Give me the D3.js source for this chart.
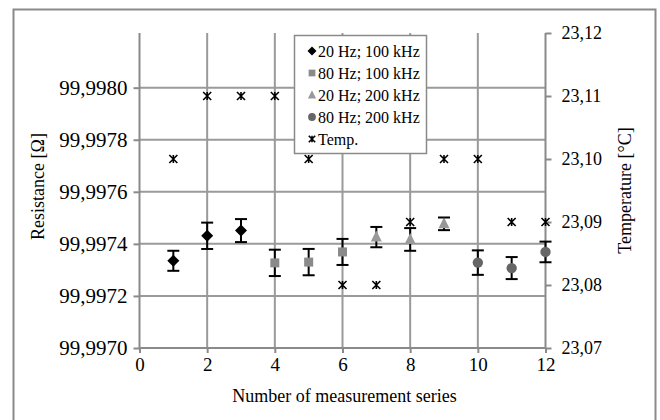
<!DOCTYPE html>
<html><head><meta charset="utf-8">
<script src="https://cdn.jsdelivr.net/npm/d3@7"></script>
<style>body{margin:0;background:#fff} text{font-family:"Liberation Serif","Times New Roman",serif;fill:#000}</style>
</head><body><svg id="c" width="660" height="420"></svg>
<script>
// ---- data ----
const seriesNo = [1,2,3,4,5,6,7,8,9,10,11,12];
const groupNames = ["20 Hz; 100 kHz","80 Hz; 100 kHz","20 Hz; 200 kHz","80 Hz; 200 kHz"];
const groupOf = [0,0,0,1,1,1,2,2,2,3,3,3];
const resistance = [99.997335,99.997431,99.997451,99.997327,99.99733,99.997369,99.997426,99.997417,99.997477,99.997328,99.997307,99.997369];
const resistanceErr = [0.0000385,0.0000506,0.0000442,0.0000506,0.0000506,0.00005,0.000039,0.0000436,0.0000243,0.000047,0.0000423,0.0000396];
const temperature = [23.10,23.11,23.11,23.11,23.10,23.08,23.08,23.09,23.10,23.10,23.09,23.09];
const xTicks = [0,2,4,6,8,10,12];
const resTicks = [99.9970,99.9972,99.9974,99.9976,99.9978,99.9980];
const tempTicks = [23.07,23.08,23.09,23.10,23.11,23.12];
const tempLabel = "Temp.";

// ---- drawing ----
const FONT = '"Liberation Serif","Times New Roman",serif';
const svg = d3.select("#c");
const L = 139.5, R = 545.5, T = 33, B = 348;
const x = d3.scaleLinear().domain([0,12]).range([L,R]);
const yL = d3.scaleLinear().domain([99.9970,99.99821]).range([B,T]);
const yR = d3.scaleLinear().domain([23.07,23.12]).range([B,T]);
const fmtR = v => d3.format(".4f")(v).replace(".", ",");
const fmtT = v => d3.format(".2f")(v).replace(".", ",");
const gridC = "#9a9a9a", axisC = "#8a8a8a";
const markFill = ["#000000","#8a8a8a","#999999","#666666"];

// outer frame
svg.append("rect").attr("x",13.5).attr("y",9.5).attr("width",642).attr("height",430)
  .attr("fill","#fff").attr("stroke",axisC).attr("stroke-width",2);

// gridlines
svg.append("g").selectAll("line").data(xTicks.filter(d=>d>0&&d<12)).join("line")
  .attr("x1",d=>x(d)).attr("x2",d=>x(d)).attr("y1",T).attr("y2",B)
  .attr("stroke",gridC).attr("stroke-width",2);
svg.append("g").selectAll("line").data(resTicks.slice(1)).join("line")
  .attr("x1",L).attr("x2",R).attr("y1",d=>yL(d)).attr("y2",d=>yL(d))
  .attr("stroke",gridC).attr("stroke-width",2);

// axes
function styleAxis(size){
  return g => {
    g.attr("font-family",FONT).attr("font-size",size);
    g.select(".domain").remove();
    g.selectAll(".tick line").attr("stroke",axisC).attr("stroke-width",2);
    g.selectAll(".tick text").attr("fill","#000").style("font-size",size+"px");
  };
}
svg.append("g").attr("transform",`translate(0,${B})`)
  .call(d3.axisBottom(x).tickValues(xTicks).tickSize(5).tickPadding(5).tickFormat(d3.format("d")))
  .call(styleAxis(19));
svg.append("g").attr("transform",`translate(${L},0)`)
  .call(d3.axisLeft(yL).tickValues(resTicks).tickSize(6).tickPadding(6).tickFormat(fmtR))
  .call(styleAxis(21));
svg.append("g").attr("transform",`translate(${R},0)`)
  .call(d3.axisRight(yR).tickValues(tempTicks).tickSize(6).tickPadding(10).tickFormat(fmtT))
  .call(styleAxis(18));
// axis lines
svg.append("line").attr("x1",L).attr("x2",L).attr("y1",T).attr("y2",B+1).attr("stroke",axisC).attr("stroke-width",2);
svg.append("line").attr("x1",R).attr("x2",R).attr("y1",T).attr("y2",B+1).attr("stroke",axisC).attr("stroke-width",2);
svg.append("line").attr("x1",L).attr("x2",R).attr("y1",B).attr("y2",B).attr("stroke",axisC).attr("stroke-width",2);

// titles
svg.append("text").attr("x",(L+R)/2+2).attr("y",402).attr("text-anchor","middle").style("font-size","18px").text("Number of measurement series");
svg.append("text").attr("transform",`translate(44,${(T+B)/2 - 4}) rotate(-90)`).attr("text-anchor","middle").style("font-size","18px").text("Resistance [Ω]");
svg.append("text").attr("transform",`translate(631,${(T+B)/2}) rotate(-90)`).attr("text-anchor","middle").style("font-size","18px").text("Temperature [°C]");

// marker shapes
function drawMarker(g, gi, cx, cy, s){
  if(gi===0){ g.append("path").attr("d",`M${cx},${cy-6*s}L${cx+6*s},${cy}L${cx},${cy+6*s}L${cx-6*s},${cy}Z`).attr("fill",markFill[0]); }
  else if(gi===1){ g.append("rect").attr("x",cx-4.5*s).attr("y",cy-4.5*s).attr("width",9*s).attr("height",9*s).attr("fill",markFill[1]); }
  else if(gi===2){ g.append("path").attr("d",`M${cx},${cy-6.5*s}L${cx+5.5*s},${cy+4.5*s}L${cx-5.5*s},${cy+4.5*s}Z`).attr("fill",markFill[2]); }
  else { g.append("circle").attr("cx",cx).attr("cy",cy).attr("r",5.2*s).attr("fill",markFill[3]); }
}
function drawStar(g, cx, cy, s){
  const h = 4*s;
  g.append("path").attr("d",`M${cx-h},${cy-h}L${cx+h},${cy+h}M${cx+h},${cy-h}L${cx-h},${cy+h}M${cx},${cy-h}L${cx},${cy+h}`)
    .attr("stroke","#000").attr("stroke-width",1.6).attr("fill","none");
}

// temperature points
const gT = svg.append("g");
seriesNo.forEach((n,i)=> drawStar(gT, x(n), yR(temperature[i]), 1));

// error bars + resistance markers
const gE = svg.append("g").attr("stroke","#000").attr("stroke-width",2);
seriesNo.forEach((n,i)=>{
  const cx = x(n), y1 = yL(resistance[i]+resistanceErr[i]), y2 = yL(resistance[i]-resistanceErr[i]);
  gE.append("line").attr("x1",cx).attr("x2",cx).attr("y1",y1).attr("y2",y2);
  gE.append("line").attr("x1",cx-6).attr("x2",cx+6).attr("y1",y1).attr("y2",y1);
  gE.append("line").attr("x1",cx-6).attr("x2",cx+6).attr("y1",y2).attr("y2",y2);
});
const gM = svg.append("g");
seriesNo.forEach((n,i)=> drawMarker(gM, groupOf[i], x(n), yL(resistance[i]), 1));

// legend
const lg = svg.append("g");
lg.append("rect").attr("x",294.5).attr("y",35.5).attr("width",132).attr("height",118)
  .attr("fill","#fff").attr("stroke",axisC).attr("stroke-width",1.5);
const legendNames = groupNames.concat([tempLabel]);
legendNames.forEach((name,k)=>{
  const cy = 51 + k*22;
  if(k<4) drawMarker(lg, k, 312, cy, 0.75); else drawStar(lg, 312, cy, 0.8);
  lg.append("text").attr("x",318).attr("y",cy+5.5).style("font-size","16px").text(name);
});
</script></body></html>
